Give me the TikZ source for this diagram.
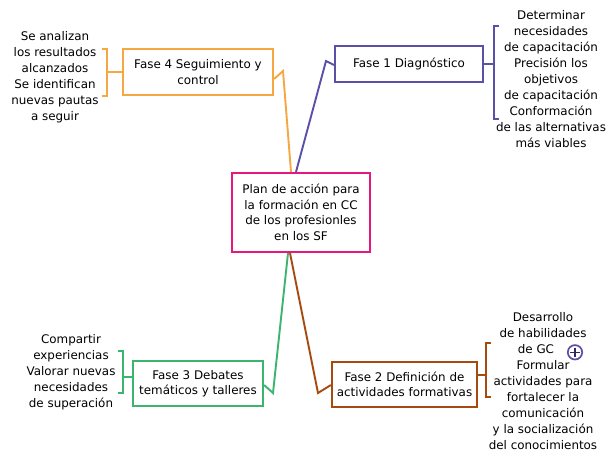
\documentclass[tikz,border=0pt]{standalone}
\usepackage{fontspec}
\setmainfont{DejaVu Sans}
\definecolor{cplan}{HTML}{E6177D}
\definecolor{cuno}{HTML}{5A50A8}
\definecolor{cdos}{HTML}{A64B10}
\definecolor{ctres}{HTML}{3CB46E}
\definecolor{ccuatro}{HTML}{F5A742}
\definecolor{cmas}{HTML}{2E2860}
\tikzset{
  fase/.style={draw,line width=2.2pt,align=center,inner sep=0pt,
    font=\fontsize{11.9}{15.5}\selectfont},
  nota/.style={align=center,inner sep=0pt,font=\fontsize{11.9}{15.9}\selectfont},
  rama/.style={line width=1.9pt,line join=miter}
}
\begin{document}
\begin{tikzpicture}[x=1pt,y=-1pt]
\useasboundingbox[fill=white](0,0) rectangle (612,463);
\node[fase,draw=cplan,minimum width=138,minimum height=79](plan) at(301,212.5)
  {Plan de acción para\\ la formación en CC\\de los profesionles\\ en los SF};
\node[fase,draw=cuno,minimum width=148,minimum height=36](f1) at(409,64) {Fase 1 Diagnóstico};
\node[fase,draw=cdos,minimum width=145,minimum height=45](f2) at(404.5,384.5) {Fase 2 Definición de\\actividades formativas};
\node[fase,draw=ctres,minimum width=130,minimum height=45](f3) at(198,383.5) {Fase 3 Debates\\temáticos y talleres};
\node[fase,draw=ccuatro,minimum width=150,minimum height=46](f4) at(198,72) {Fase 4 Seguimiento y\\control};
%notas
\node[nota](n1) at(551,79) {Determinar\\necesidades\\de capacitación\\Precisión los\\objetivos\\de capacitación\\Conformación\\de las alternativas\\más viables};
\node[nota](n2) at(543,381) {Desarrollo\\de habilidades\\de GC\phantom{xx}\\Formular\\actividades para\\fortalecer la\\comunicación\\y la socialización\\del conocimientos};
\node[nota](n3) at(71,372.5) {Compartir\\experiencias\\Valorar nuevas\\necesidades\\de superación};
\node[nota](n4) at(55,77) {Se analizan\\los resultados\\alcanzados\\Se identifican\\nuevas pautas\\a seguir};
%ramas
\draw[rama,ccuatro]([xshift=-10pt]plan.north)--(283,71)--([yshift=-7pt]f4.east);
\draw[rama,cuno]([xshift=-5pt]plan.north)--(326,61)--([yshift=-1pt]f1.west);
\draw[rama,ctres]([xshift=-13pt]plan.south)--(273,393)--([yshift=-1.5pt]f3.east);
\draw[rama,cdos]([xshift=-11pt]plan.south)--(318,393)--([yshift=-0.5pt]f2.west);
%corchetes
\draw[rama,cuno](f1.east)--(494,64);
\draw[rama,cuno](499,26)--(494,26)--(494,119)--(499,119);
\draw[rama,cdos]([yshift=9.5pt]f2.east)--(486,375);
\draw[rama,cdos](491,343)--(486,343)--(486,397)--(491,397);
\draw[rama,ctres]([yshift=6.5pt]f3.west)--(123,377);
\draw[rama,ctres](118,351)--(123,351)--(123,393)--(118,393);
\draw[rama,ccuatro](f4.west)--(107,72);
\draw[rama,ccuatro](102,49)--(107,49)--(107,96)--(102,96);
%mas
\draw[cuno,line width=1.7pt](575,352.3)circle[radius=7.2pt];
\draw[cmas,line width=1.2pt](570.2,352.3)--(579.8,352.3)(575,347.5)--(575,357.1);
\end{tikzpicture}
\end{document}
